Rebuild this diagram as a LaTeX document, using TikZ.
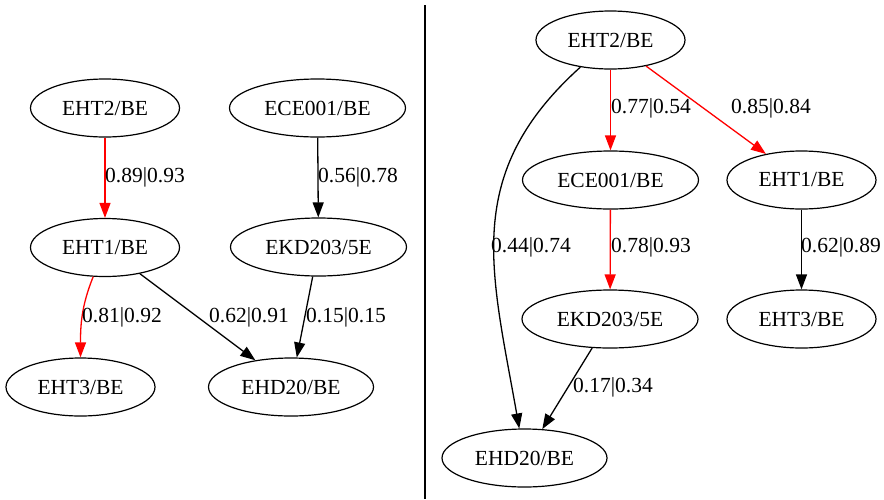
\documentclass[tikz,border=0pt]{standalone}
\usepackage{fontspec}
\setmainfont{Liberation Serif}
\usetikzlibrary{shapes.geometric,arrows.meta}
\begin{document}
\begin{tikzpicture}[x=1pt,y=-1pt,
  font=\fontsize{21.5}{24}\selectfont,
  gnode/.style={ellipse,draw,line width=1.2pt,inner sep=0pt},
  wn/.style={gnode,minimum width=149pt,minimum height=58pt},
  ww/.style={gnode,minimum width=176pt,minimum height=58pt},
  wm/.style={gnode,minimum width=165pt,minimum height=58pt},
  edge/.style={line width=1.3pt,-{Triangle[length=15pt,width=11pt]}},
  redge/.style={edge,red},
  lbl/.style={anchor=west,inner sep=0pt}]
\useasboundingbox (0,0) rectangle (884,499);
\fill[white] (0,0) rectangle (884,499);
% divider
\coordinate (dtop) at (425,5);
\coordinate (dbot) at (425,499);
\draw[line width=2pt] (dtop) -- (dbot);
% left graph
\node[wn] (lA) at (105,108) {EHT2/BE};
\node[ww] (lB) at (317.5,108) {ECE001/BE};
\node[wn] (lC) at (105,247.5) {EHT1/BE};
\node[ww] (lD) at (318.5,247) {EKD203/5E};
\node[wn] (lE) at (80.5,387) {EHT3/BE};
\node[wm] (lF) at (291,387) {EHD20/BE};
\draw[redge] (lA) -- (lC);
\draw[edge] (lB) -- (lD);
\draw[redge] (lC) to[out=-112,in=90] (lE);
\draw[edge] (lC) -- (lF);
\draw[edge] (lD) -- (lF);
\node[lbl] (l1) at (105,177) {0.89|0.93};
\node[lbl] (l2) at (318,177) {0.56|0.78};
\node[lbl] (l3) at (82,317) {0.81|0.92};
\node[lbl] (l4) at (209,317) {0.62|0.91};
\node[lbl] (l5) at (306,317) {0.15|0.15};
% right graph
\node[wn] (rA) at (610.5,40) {EHT2/BE};
\node[ww] (rB) at (610.5,180) {ECE001/BE};
\node[wn] (rC) at (801.5,180) {EHT1/BE};
\node[ww] (rD) at (610,319) {EKD203/5E};
\node[wn] (rE) at (801.5,319) {EHT3/BE};
\node[wm] (rF) at (524.5,458) {EHD20/BE};
\draw[redge] (rA) -- (rB);
\draw[redge] (rA) -- (rC);
\draw[redge] (rB) -- (rD);
\draw[edge] (rC) -- (rE);
\draw[edge] (rA) to[out=-138,in=100,looseness=1.12] (rF);
\draw[edge] (rD) -- (rF);
\node[lbl] (r1) at (611,108) {0.77|0.54};
\node[lbl] (r2) at (731,108) {0.85|0.84};
\node[lbl] (r3) at (491,247) {0.44|0.74};
\node[lbl] (r4) at (611,247) {0.78|0.93};
\node[lbl] (r5) at (801,247) {0.62|0.89};
\node[lbl] (r6) at (573,387) {0.17|0.34};
\end{tikzpicture}
\end{document}
